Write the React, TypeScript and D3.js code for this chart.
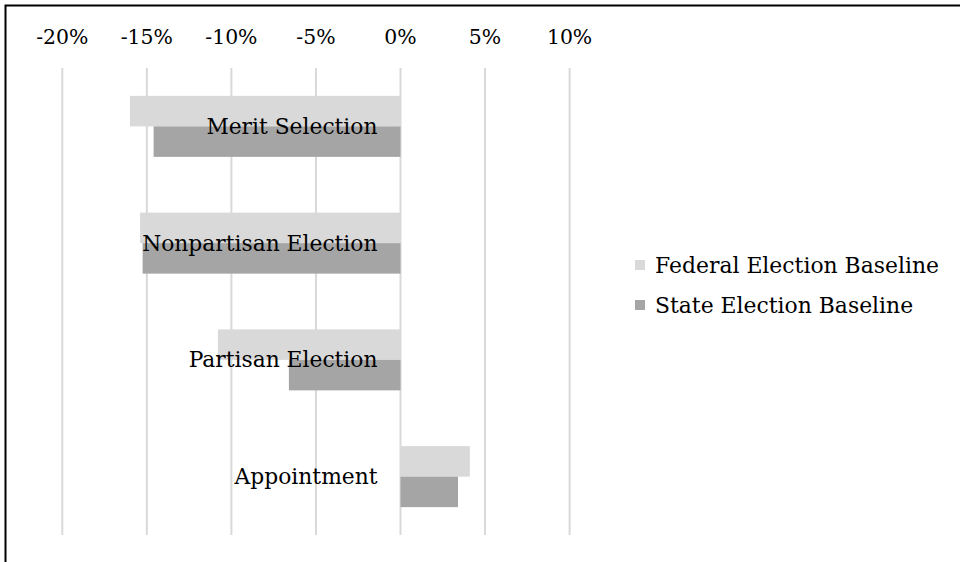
import React from "react";
import * as d3 from "d3";

const categories = ["Merit Selection", "Nonpartisan Election", "Partisan Election", "Appointment"];
const federalValues = [-16.0, -15.4, -10.8, 4.1];
const stateValues = [-14.6, -15.25, -6.6, 3.4];
const seriesNames = ["Federal Election Baseline", "State Election Baseline"];
const tickValues = [-20, -15, -10, -5, 0, 5, 10];

const seriesColors = ["#d9d9d9", "#a5a5a5"];
const FONT = "DejaVu Serif";

export default function App() {
  const W = 960;
  const H = 562;
  const x = d3.scaleLinear().domain([-20, 10]).range([62.3, 569.6]);
  const y = d3.scaleBand<string>().domain(categories).range([68, 535]).padding(0);
  const yInner = d3
    .scaleBand<string>()
    .domain(seriesNames)
    .range([0, y.bandwidth()])
    .paddingInner(0)
    .paddingOuter(0.914);
  const seriesValues = [federalValues, stateValues];

  return (
    <svg
      width={W}
      height={H}
      style={{ position: "absolute", left: 0, top: 0, background: "#fff" }}
      fontFamily={FONT}
    >
      <rect x={0} y={0} width={W} height={H} fill="#fff" />
      {tickValues.map((t) => (
        <line
          key={"g" + t}
          x1={x(t)}
          x2={x(t)}
          y1={68}
          y2={535}
          stroke="#d9d9d9"
          strokeWidth={2}
        />
      ))}
      {categories.map((c, i) =>
        seriesNames.map((s, j) => {
          const v = seriesValues[j][i];
          const x0 = x(Math.min(0, v));
          const x1 = x(Math.max(0, v));
          return (
            <rect
              key={c + s}
              x={x0}
              y={(y(c) as number) + (yInner(s) as number)}
              width={x1 - x0}
              height={yInner.bandwidth()}
              fill={seriesColors[j]}
            />
          );
        })
      )}
      {categories.map((c) => (
        <text
          key={"l" + c}
          x={x(0) - 23}
          y={(y(c) as number) + y.bandwidth() / 2 + 7.5}
          textAnchor="end"
          fontSize={21.8}
          fill="#000"
        >
          {c}
        </text>
      ))}
      {tickValues.map((t) => (
        <text key={"t" + t} x={x(t)} y={44} textAnchor="middle" fontSize={20.4} fill="#000">
          {t + "%"}
        </text>
      ))}
      {seriesNames.map((s, j) => (
        <g key={"lg" + s} transform={`translate(635, ${265 + j * 40})`}>
          <rect x={0} y={-5} width={10} height={10} fill={seriesColors[j]} />
          <text x={20} y={7.5} fontSize={21.9} fill="#000">
            {s}
          </text>
        </g>
      ))}
      <rect x={5.5} y={5.5} width={W + 20} height={H + 20} fill="none" stroke="#000" strokeWidth={2} />
    </svg>
  );
}
